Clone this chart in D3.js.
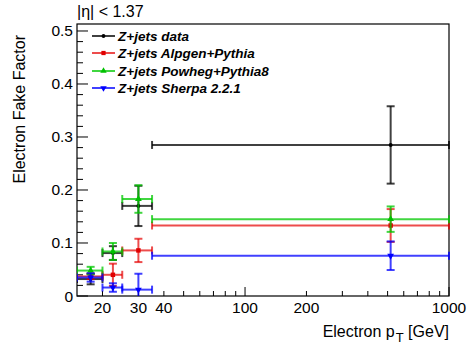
<!DOCTYPE html>
<html>
<head>
<meta charset="utf-8">
<script src="https://cdn.jsdelivr.net/npm/d3@7"></script>
<style>
  body { margin: 0; background: #fff; }
  svg { display: block; font-family: "Liberation Sans", Arial, sans-serif; }
</style>
</head>
<body>
<svg width="469" height="354"></svg>
<script>
// bins in electron pT [GeV]
let binLo = [15, 20, 25, 35];
let binHi = [20, 25, 35, 1000];
let binMid = [17.5, 22.5, 30, 517.5];

let seriesNames = ["Z+jets data", "Z+jets Alpgen+Pythia", "Z+jets Powheg+Pythia8", "Z+jets Sherpa 2.2.1"];
let dataVals = [0.032, 0.081, 0.170, 0.285];
let dataErr = [0.010, 0.013, 0.038, 0.073];
let alpgenVals = [0.037, 0.040, 0.086, 0.133];
let alpgenErr = [0.005, 0.021, 0.022, 0.031];
let powhegVals = [0.048, 0.084, 0.183, 0.145];
let powhegErr = [0.007, 0.016, 0.026, 0.024];
let sherpaVals = [0.035, 0.016, 0.012, 0.076];
let sherpaErr = [0.008, 0.008, 0.030, 0.027];

let xTickLabels = [20, 30, 40, 100, 200, 1000];
let xMinorTicks = [20, 30, 40, 50, 60, 70, 80, 90, 200, 300, 400, 500, 600, 700, 800, 900];
let xMajorTicks = [100, 1000];
let yTickLabels = [0, 0.1, 0.2, 0.3, 0.4, 0.5];

let colors = ["rgba(0,0,0,0.75)", "rgba(230,0,0,0.7)", "rgba(0,200,0,0.75)", "rgba(0,0,255,0.75)"];
let markerColors = ["#000", "#e00000", "#00c000", "#0000ff"];
let markers = [d3.symbolCircle, d3.symbolSquare, d3.symbolTriangle, d3.symbolTriangle];

let pLeft = 77, pRight = 449, pTop = 24, pBottom = 296;

let xScale = d3.scaleLog()
    .domain([15, 1000])
    .range([pLeft, pRight]);

let yScale = d3.scaleLinear()
    .domain([0, 0.5132])
    .range([pBottom, pTop]);

const svg = d3.select("svg");

svg.append("defs").append("clipPath").attr("id", "plotclip")
    .append("rect")
    .attr("x", pLeft).attr("y", pTop)
    .attr("width", pRight - pLeft + 2).attr("height", pBottom - pTop);

const drawFrame = () => {
    svg.append("rect")
        .attr("x", pLeft).attr("y", pTop)
        .attr("width", pRight - pLeft).attr("height", pBottom - pTop)
        .attr("fill", "none").attr("stroke", "#000").attr("stroke-width", 1.2);

    // y ticks
    let yMinor = d3.range(0, 0.5132, 0.02);
    svg.selectAll(".yminor").data(yMinor).enter().append("line")
        .attr("x1", pLeft).attr("x2", d => (Math.round(d * 100) % 10 == 0) ? pLeft + 11 : pLeft + 6)
        .attr("y1", d => yScale(d)).attr("y2", d => yScale(d))
        .attr("stroke", "#000").attr("stroke-width", 1);

    svg.selectAll(".ylab").data(yTickLabels).enter().append("text")
        .attr("x", pLeft - 4)
        .attr("y", d => yScale(d) + 5.5)
        .attr("text-anchor", "end")
        .attr("font-size", 15.5)
        .text(d => d == 0 ? "0" : d3.format(".1f")(d));

    // x ticks
    svg.selectAll(".xminor").data(xMinorTicks).enter().append("line")
        .attr("x1", d => xScale(d)).attr("x2", d => xScale(d))
        .attr("y1", pBottom).attr("y2", pBottom - 5)
        .attr("stroke", "#000").attr("stroke-width", 1);

    svg.selectAll(".xmajor").data(xMajorTicks).enter().append("line")
        .attr("x1", d => xScale(d)).attr("x2", d => xScale(d))
        .attr("y1", pBottom).attr("y2", pBottom - 9)
        .attr("stroke", "#000").attr("stroke-width", 1);

    svg.selectAll(".xlab").data(xTickLabels).enter().append("text")
        .attr("x", d => xScale(d))
        .attr("y", pBottom + 17)
        .attr("text-anchor", "middle")
        .attr("font-size", 15.5)
        .text(d => d);

    // axis titles
    svg.append("text")
        .attr("transform", "translate(25, 35) rotate(-90)")
        .attr("text-anchor", "end")
        .attr("font-size", 16)
        .text("Electron Fake Factor");

    let xt = svg.append("text")
        .attr("x", pRight)
        .attr("y", 337)
        .attr("text-anchor", "end")
        .attr("font-size", 16);
    xt.append("tspan").text("Electron p");
    xt.append("tspan").attr("font-size", 13).attr("dy", 5).attr("dx", 1).text("T");
    xt.append("tspan").attr("dy", -5).text(" [GeV]");

    svg.append("text")
        .attr("x", pLeft)
        .attr("y", 17)
        .attr("font-size", 16)
        .text("|\u03B7| < 1.37");
};

const drawSeries = (vals, errs, i) => {
    let g = svg.append("g").attr("clip-path", "url(#plotclip)");
    let col = colors[i];
    let cap = 4;
    vals.forEach((v, k) => {
        let xl = xScale(binLo[k]), xh = Math.min(xScale(binHi[k]), pRight), xm = xScale(binMid[k]);
        let y = yScale(v), yh = yScale(v + errs[k]), yl = yScale(Math.max(v - errs[k], 0));
        let seg = (x1, y1, x2, y2) => g.append("line")
            .attr("x1", x1).attr("y1", y1).attr("x2", x2).attr("y2", y2)
            .attr("stroke", col).attr("stroke-width", 2);
        seg(xl, y, xh, y);
        seg(xl, y - cap, xl, y + cap);
        seg(xh, y - cap, xh, y + cap);
        seg(xm, yh, xm, yl);
        seg(xm - cap, yh, xm + cap, yh);
        if (v - errs[k] > 0) seg(xm - cap, yl, xm + cap, yl);
        g.append("path")
            .attr("d", d3.symbol().type(markers[i]).size(i == 0 ? 12 : 20)())
            .attr("transform", `translate(${xm}, ${y})` + (i == 3 ? " rotate(180)" : ""))
            .attr("fill", markerColors[i]);
    });
};

const drawLegend = () => {
    let rows = [36, 53, 71, 88];
    seriesNames.forEach((name, i) => {
        svg.append("line")
            .attr("x1", 92).attr("x2", 115)
            .attr("y1", rows[i]).attr("y2", rows[i])
            .attr("stroke", colors[i]).attr("stroke-width", 2);
        svg.append("path")
            .attr("d", d3.symbol().type(markers[i]).size(i == 0 ? 12 : 18)())
            .attr("transform", `translate(103.5, ${rows[i]})` + (i == 3 ? " rotate(180)" : ""))
            .attr("fill", markerColors[i]);
        svg.append("text")
            .attr("x", 118)
            .attr("y", rows[i] + 4.5)
            .attr("font-size", 13.5)
            .attr("font-weight", "bold")
            .attr("font-style", "italic")
            .text(name);
    });
};

drawFrame();
drawSeries(dataVals, dataErr, 0);
drawSeries(alpgenVals, alpgenErr, 1);
drawSeries(powhegVals, powhegErr, 2);
drawSeries(sherpaVals, sherpaErr, 3);
drawLegend();
</script>
</body>
</html>
